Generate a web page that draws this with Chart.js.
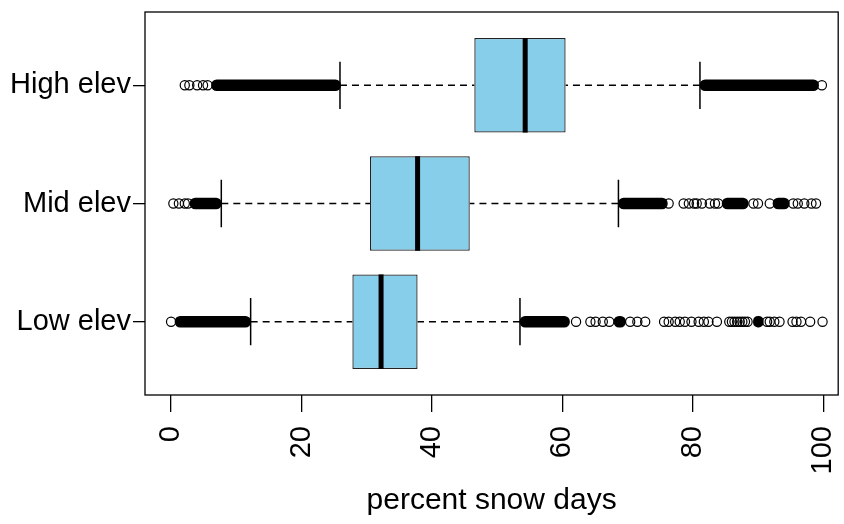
<!DOCTYPE html>
<html>
<head>
<meta charset="utf-8">
<script src="https://cdn.jsdelivr.net/npm/chart.js@4/dist/chart.umd.min.js"></script>
<style>
  html, body { margin: 0; padding: 0; background: #fff; }
</style>
</head>
<body>
<canvas id="chart_snowDaysBoxplot" width="844" height="524"></canvas>
<script>
// elevation bands, bottom to top on the y axis (values 1, 2, 3)
var groups = ['Low elev', 'Mid elev', 'High elev'];

// box summaries, percent snow days
var whiskerLow  = [12.2, 7.7, 25.9];
var quartile1   = [27.8, 30.5, 46.5];
var medians     = [32.2, 37.8, 54.3];
var quartile3   = [37.8, 45.8, 60.5];
var whiskerHigh = [53.5, 68.6, 81.1];

// stretches where the outlier circles pile up into a solid band
var denseLow  = [[0.6, 12.2], [53.5, 61.1], [67.9, 69.7], [89.3, 90.8]];
var denseMid  = [[2.9, 7.7], [68.6, 76.1], [84.5, 88.5], [92.3, 94.8]];
var denseHigh = [[6.2, 26.0], [81.1, 99.3]];

// single outliers
var outliersLow  = [0, 62.1, 64.3, 65.1, 66.2, 67.2, 70.4, 71.5, 72.7, 75.6, 76.3, 77.3, 78.0,
                    78.8, 79.8, 80.9, 81.7, 82.4, 83.7, 85.6, 86.0, 86.4, 86.8, 87.2, 87.6, 88.0,
                    88.4, 91.4, 91.8, 92.5, 93.3, 95.3, 95.9, 96.6, 98.0, 99.9];
var outliersMid  = [0.35, 1.2, 2.1, 2.6, 76.3, 78.6, 79.4, 80.2, 80.6, 81.4, 82.6, 83.4, 83.9,
                    89.3, 90.0, 91.8, 95.4, 96.1, 97.1, 98.2, 98.9];
var outliersHigh = [2.1, 2.8, 4.0, 4.9, 5.6, 99.8];

var xTicks = [0, 20, 40, 60, 80, 100];

var denseRuns = [denseLow, denseMid, denseHigh];
var outliers = [outliersLow, outliersMid, outliersHigh];

var boxData = groups.map(function (g, i) {
    return { x: [quartile1[i], quartile3[i]], y: i + 1 };
});
var denseData = [];
denseRuns.forEach(function (runs, i) {
    runs.forEach(function (r) { denseData.push({ x: r, y: i + 1 }); });
});
var outlierData = [];
outliers.forEach(function (vals, i) {
    vals.forEach(function (v) { outlierData.push({ x: v, y: i + 1 }); });
});

var axisFont = { family: "'Liberation Sans', Arial, sans-serif", size: 29 };

// whiskers, staples, medians and the plot frame
var boxPartsPlugin = {
    id: 'boxParts',
    beforeDatasetsDraw: function (chart) {
        var ctx = chart.ctx, xs = chart.scales.x, ys = chart.scales.y;
        var capHalf = Math.abs(ys.getPixelForValue(0.2) - ys.getPixelForValue(0));
        ctx.save();
        ctx.strokeStyle = '#000';
        ctx.lineWidth = 1.5;
        groups.forEach(function (g, i) {
            var yc = ys.getPixelForValue(i + 1);
            ctx.setLineDash([7, 5]);
            ctx.beginPath();
            ctx.moveTo(xs.getPixelForValue(whiskerLow[i]), yc);
            ctx.lineTo(xs.getPixelForValue(quartile1[i]), yc);
            ctx.moveTo(xs.getPixelForValue(whiskerHigh[i]), yc);
            ctx.lineTo(xs.getPixelForValue(quartile3[i]), yc);
            ctx.stroke();
            ctx.setLineDash([]);
            ctx.beginPath();
            [whiskerLow[i], whiskerHigh[i]].forEach(function (v) {
                var px = xs.getPixelForValue(v);
                ctx.moveTo(px, yc - capHalf);
                ctx.lineTo(px, yc + capHalf);
            });
            ctx.stroke();
        });
        ctx.restore();
    },
    afterDatasetsDraw: function (chart) {
        var ctx = chart.ctx, xs = chart.scales.x, ys = chart.scales.y;
        var boxHalf = Math.abs(ys.getPixelForValue(0.4) - ys.getPixelForValue(0));
        ctx.save();
        ctx.strokeStyle = '#000';
        ctx.lineWidth = 5;
        groups.forEach(function (g, i) {
            var yc = ys.getPixelForValue(i + 1);
            var px = xs.getPixelForValue(medians[i]);
            ctx.beginPath();
            ctx.moveTo(px, yc - boxHalf);
            ctx.lineTo(px, yc + boxHalf);
            ctx.stroke();
        });
        var a = chart.chartArea;
        ctx.lineWidth = 1.3;
        ctx.strokeRect(a.left, a.top, a.right - a.left, a.bottom - a.top);
        ctx.restore();
    }
};

var chart_snowDaysBoxplot = new Chart(document.getElementById('chart_snowDaysBoxplot'), {
    type: 'bar',
    data: {
        datasets: [
            {
                type: 'scatter',
                label: 'outliers',
                data: outlierData,
                pointStyle: 'circle',
                pointRadius: 4.6,
                pointBorderWidth: 1.2,
                pointBorderColor: '#000',
                pointBackgroundColor: 'rgba(0,0,0,0)',
                showLine: false
            },
            {
                type: 'bar',
                label: 'dense outliers',
                indexAxis: 'y',
                grouped: false,
                data: denseData,
                barThickness: 11,
                borderRadius: 5.5,
                borderSkipped: false,
                backgroundColor: '#000',
                borderWidth: 0
            },
            {
                type: 'bar',
                label: 'boxes',
                indexAxis: 'y',
                grouped: false,
                data: boxData,
                categoryPercentage: 1,
                barPercentage: 0.8,
                backgroundColor: '#87CEEB',
                borderColor: '#222',
                borderWidth: 1.3,
                borderSkipped: false
            }
        ]
    },
    options: {
        animation: false,
        responsive: false,
        layout: { padding: { top: 12, right: 2, left: 0, bottom: 0 } },
        plugins: {
            legend: { display: false },
            tooltip: { enabled: false }
        },
        scales: {
            x: {
                type: 'linear',
                position: 'bottom',
                offset: false,
                min: -4,
                max: 102.3,
                afterBuildTicks: function (s) {
                    s.ticks = xTicks.map(function (v) { return { value: v }; });
                },
                afterFit: function (s) {
                    s.height = 129;
                    s.paddingLeft = 0;
                    s.paddingRight = 0;
                },
                ticks: {
                    font: axisFont,
                    color: '#000',
                    minRotation: 90,
                    maxRotation: 90,
                    autoSkip: false,
                    padding: 14
                },
                grid: {
                    offset: false,
                    drawOnChartArea: false,
                    tickLength: 17,
                    color: '#000',
                    lineWidth: 1.3
                },
                border: { display: false },
                title: {
                    display: true,
                    text: 'percent snow days',
                    font: { family: axisFont.family, size: 30 },
                    color: '#000',
                    padding: { top: 0, bottom: 5 }
                }
            },
            y: {
                type: 'linear',
                position: 'left',
                offset: false,
                min: 0.38,
                max: 3.62,
                afterBuildTicks: function (s) {
                    s.ticks = groups.map(function (g, i) { return { value: i + 1 }; });
                },
                afterFit: function (s) {
                    s.width = 145;
                    s.paddingTop = 0;
                    s.paddingBottom = 0;
                },
                ticks: {
                    font: axisFont,
                    color: '#000',
                    padding: 2,
                    callback: function (v) { return groups[v - 1]; }
                },
                grid: {
                    offset: false,
                    drawOnChartArea: false,
                    tickLength: 12,
                    color: '#000',
                    lineWidth: 1.3
                },
                border: { display: false }
            }
        }
    },
    plugins: [boxPartsPlugin, {
        id: 'whiteBackground',
        beforeDraw: function (chart) {
            var ctx = chart.ctx;
            ctx.save();
            ctx.globalCompositeOperation = 'destination-over';
            ctx.fillStyle = 'white';
            ctx.fillRect(0, 0, chart.width, chart.height);
            ctx.restore();
        }
    }]
});
</script>
</body>
</html>
